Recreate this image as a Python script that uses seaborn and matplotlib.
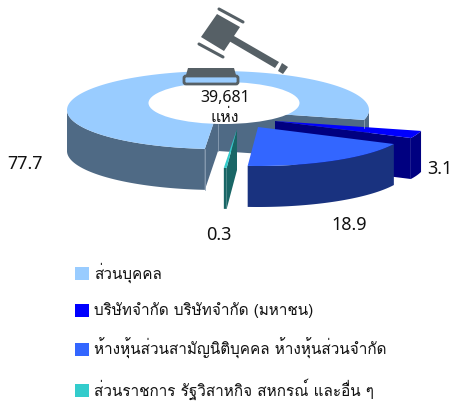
import numpy as np
import matplotlib
matplotlib.use('Agg')
import matplotlib.pyplot as plt
import seaborn as sns
from matplotlib.patches import Patch, Polygon, Ellipse, FancyBboxPatch

categorias = ['ส่วนบุคคล', 'บริษัทจำกัด บริษัทจำกัด (มหาชน)',
              'ห้างหุ้นส่วนสามัญนิติบุคคล ห้างหุ้นส่วนจำกัด',
              'ส่วนราชการ รัฐวิสาหกิจ สหกรณ์ และอื่น ๆ']
valores = [77.7, 3.1, 18.9, 0.3]
etiquetas = ['77.7', '3.1', '18.9', '0.3']
total = ['39,681', 'แห่ง']

colores = ['#99CCFF', '#0000FF', '#3366FF', '#33CCCC']
colores_lado = ['#4F6A85', '#000080', '#19327F', '#196666']

sns.set_theme(style='white')
plt.rcParams['font.family'] = ['Loma', 'DejaVu Sans']

# la figura va en pixeles, y hacia abajo
fig, ax = plt.subplots(figsize=(4.54, 4.03), dpi=100)
ax.set_position([0, 0, 1, 1])
ax.set_xlim(0, 454)
ax.set_ylim(403, 0)
ax.axis('off')

RX, RY, ALTO = 151, 39, 41
centros = [(218, 110), (275, 121), (258, 127), (237, 129)]
pos_etiquetas = [(25, 164), (440, 169), (349, 225), (219, 235)]


def arco(cx, cy, a0, a1):
    t = np.radians(np.linspace(a0, a1, 200))
    return np.column_stack([cx + RX * np.cos(t), cy - RY * np.sin(t)])


def cara_corte(cx, cy, a, color):
    p = arco(cx, cy, a, a)[0]
    ax.add_patch(Polygon([(cx, cy), p, p + (0, ALTO), (cx, cy + ALTO)], fc=color, ec='none'))


def pared(cx, cy, a0, a1, color):
    # solo los tramos de adelante del borde exterior (seno negativo)
    t = np.linspace(a0, a1, 400)
    frente = np.sin(np.radians(t)) <= 0
    inicio = None
    for i, f in enumerate(frente):
        if f and inicio is None:
            inicio = i
        if inicio is not None and (not f or i == len(t) - 1):
            pts = arco(cx, cy, t[inicio], t[i])
            ax.add_patch(Polygon(np.vstack([pts, pts[::-1] + (0, ALTO)]), fc=color, ec='none'))
            inicio = None


def rebanada(cx, cy, a0, a1, color, lado):
    # se reparte en sentido del reloj desde a0 hasta a1
    if np.cos(np.radians(a0)) < 0:
        cara_corte(cx, cy, a0, lado)
    if np.cos(np.radians(a1)) > 0:
        cara_corte(cx, cy, a1, lado)
    pared(cx, cy, a0, a1, lado)
    ax.add_patch(Polygon(np.vstack([[(cx, cy)], arco(cx, cy, a0, a1)]), fc=color, ec='none'))


angulo = 265
for i, v in enumerate(valores):
    fin = angulo - v * 3.6
    rebanada(centros[i][0], centros[i][1], angulo, fin, colores[i], colores_lado[i])
    if i == 0:
        # filos claros y hueco blanco van sobre la primera rebanada
        p = arco(*centros[0], 265, 265)[0]
        ax.plot([p[0], p[0]], [p[1], p[1] + ALTO], color='#8CA0B5', lw=0.6)
        ax.plot([218, 218], [124, 151], color='#8CA0B5', lw=0.6)
        q = arco(*centros[0], fin, fin)[0]
        ax.plot([q[0], q[0]], [q[1], q[1] + 8], color='#8CA0B5', lw=0.6)
        ax.add_patch(Ellipse((224, 103), 151, 42, fc='white', ec='none'))
    angulo = fin

for (x, y), t in zip(pos_etiquetas, etiquetas):
    ax.text(x, y, t, fontsize=13, family='Noto Sans', color='#111111', ha='center', va='center')

# martillo, solo adorno
GRIS = '#566066'
ax.add_patch(Polygon([(217, 14), (240, 27), (224, 51), (201, 37)], fc=GRIS, ec='none'))
ax.plot([219, 243], [9, 22], color=GRIS, lw=2.2, solid_capstyle='round')
ax.plot([199, 223], [44, 57], color=GRIS, lw=2.2, solid_capstyle='round')
ax.add_patch(Polygon([(230, 33), (234, 36), (279, 62), (275, 68), (229, 41)], fc=GRIS, ec='none'))
ax.add_patch(Polygon([(282, 63), (288, 67), (283, 74), (278, 71)], fc=GRIS, ec='none'))
ax.add_patch(Polygon([(188, 68), (234, 68), (236, 75), (186, 75)], fc=GRIS, ec='none'))
ax.add_patch(FancyBboxPatch((184, 76), 54, 8, boxstyle='round,pad=0,rounding_size=2',
                            fc='#99CCFF', ec=GRIS, lw=2))

ax.text(225, 98, total[0], fontsize=11.5, family='Noto Sans', color='#111111',
        ha='center', va='center', zorder=5)
ax.text(225, 118, total[1], fontsize=11.5, color='#111111', ha='center', va='center', zorder=5)

manijas = [Patch(fc=c, ec='none') for c in colores]
ax.legend(manijas, categorias, loc='upper left', bbox_to_anchor=(70 / 454, 1 - 258 / 403),
          frameon=False, fontsize=11, labelspacing=1.28, handlelength=0.95, handleheight=0.95,
          handletextpad=0.3, borderpad=0.3, borderaxespad=0, labelcolor='#111111')

fig.savefig('out.png', dpi=100)
